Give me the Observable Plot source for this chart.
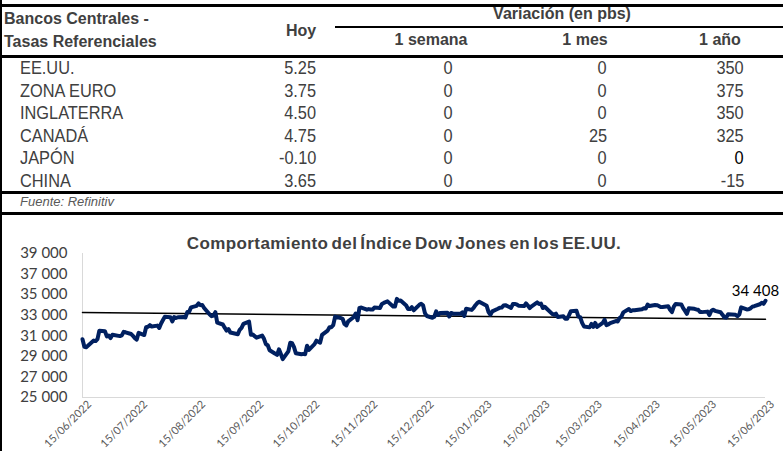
<!DOCTYPE html>
<html><head><meta charset="utf-8">
<script src="https://cdn.jsdelivr.net/npm/d3@7"></script>
<script src="https://cdn.jsdelivr.net/npm/@observablehq/plot@0.6"></script>
<style>
html,body{margin:0;padding:0;}
body{width:783px;height:451px;overflow:hidden;background:#fff;position:relative;font-family:"Liberation Sans",Arial,sans-serif;}
.t{position:absolute;white-space:nowrap;height:30px;line-height:30px;}
.hl{position:absolute;background:#000;}
.hdr{font-weight:bold;font-size:16px;color:#404040;}
.row{font-family:"Liberation Sans",Arial,sans-serif;font-size:19px;color:#404040;transform:scaleX(0.86);}
.src{font-style:italic;font-size:13px;color:#595959;}
#chart{position:absolute;left:0;top:213px;}
#title{font-weight:bold;font-size:17px;letter-spacing:0.4px;word-spacing:-2px;color:#404040;}
</style></head><body>
<div id="table"></div>
<div id="chart"></div>
<script>
// ---------- table data ----------
const countries = ["EE.UU.", "ZONA EURO", "INGLATERRA", "CANADÁ", "JAPÓN", "CHINA"];
const hoy = ["5.25", "3.75", "4.50", "4.75", "-0.10", "3.65"];
const semana = ["0", "0", "0", "0", "0", "0"];
const mes = ["0", "0", "0", "25", "0", "0"];
const anio = ["350", "375", "350", "325", "0", "-15"];
const headerLeft = ["Bancos Centrales -", "Tasas Referenciales"];
const colHeaders = ["Hoy", "Variación (en pbs)", "1 semana", "1 mes", "1 año"];
const sourceText = "Fuente: Refinitiv";

// ---------- chart data (Dow Jones close) ----------
const dowDates = [
"2022-06-15","2022-06-16","2022-06-17","2022-06-21","2022-06-22","2022-06-23","2022-06-24","2022-06-27","2022-06-28","2022-06-29","2022-06-30",
"2022-07-01","2022-07-05","2022-07-06","2022-07-07","2022-07-08","2022-07-11","2022-07-12","2022-07-13","2022-07-14","2022-07-15","2022-07-18","2022-07-19","2022-07-20","2022-07-21","2022-07-22","2022-07-25","2022-07-26","2022-07-27","2022-07-28","2022-07-29",
"2022-08-01","2022-08-02","2022-08-03","2022-08-04","2022-08-05","2022-08-08","2022-08-09","2022-08-10","2022-08-11","2022-08-12","2022-08-15","2022-08-16","2022-08-17","2022-08-18","2022-08-19","2022-08-22","2022-08-23","2022-08-24","2022-08-25","2022-08-26","2022-08-29","2022-08-30","2022-08-31",
"2022-09-01","2022-09-02","2022-09-06","2022-09-07","2022-09-08","2022-09-09","2022-09-12","2022-09-13","2022-09-14","2022-09-15","2022-09-16","2022-09-19","2022-09-20","2022-09-21","2022-09-22","2022-09-23","2022-09-26","2022-09-27","2022-09-28","2022-09-29","2022-09-30",
"2022-10-03","2022-10-04","2022-10-05","2022-10-06","2022-10-07","2022-10-10","2022-10-11","2022-10-12","2022-10-13","2022-10-14","2022-10-17","2022-10-18","2022-10-19","2022-10-20","2022-10-21","2022-10-24","2022-10-25","2022-10-26","2022-10-27","2022-10-28","2022-10-31",
"2022-11-01","2022-11-02","2022-11-03","2022-11-04","2022-11-07","2022-11-08","2022-11-09","2022-11-10","2022-11-11","2022-11-14","2022-11-15","2022-11-16","2022-11-17","2022-11-18","2022-11-21","2022-11-22","2022-11-23","2022-11-25","2022-11-28","2022-11-29","2022-11-30",
"2022-12-01","2022-12-02","2022-12-05","2022-12-06","2022-12-07","2022-12-08","2022-12-09","2022-12-12","2022-12-13","2022-12-14","2022-12-15","2022-12-16","2022-12-19","2022-12-20","2022-12-21","2022-12-22","2022-12-23","2022-12-27","2022-12-28","2022-12-29","2022-12-30",
"2023-01-03","2023-01-04","2023-01-05","2023-01-06","2023-01-09","2023-01-10","2023-01-11","2023-01-12","2023-01-13","2023-01-17","2023-01-18","2023-01-19","2023-01-20","2023-01-23","2023-01-24","2023-01-25","2023-01-26","2023-01-27","2023-01-30","2023-01-31",
"2023-02-01","2023-02-02","2023-02-03","2023-02-06","2023-02-07","2023-02-08","2023-02-09","2023-02-10","2023-02-13","2023-02-14","2023-02-15","2023-02-16","2023-02-17","2023-02-21","2023-02-22","2023-02-23","2023-02-24","2023-02-27","2023-02-28",
"2023-03-01","2023-03-02","2023-03-03","2023-03-06","2023-03-07","2023-03-08","2023-03-09","2023-03-10","2023-03-13","2023-03-14","2023-03-15","2023-03-16","2023-03-17","2023-03-20","2023-03-21","2023-03-22","2023-03-23","2023-03-24","2023-03-27","2023-03-28","2023-03-29","2023-03-30","2023-03-31",
"2023-04-03","2023-04-04","2023-04-05","2023-04-06","2023-04-10","2023-04-11","2023-04-12","2023-04-13","2023-04-14","2023-04-17","2023-04-18","2023-04-19","2023-04-20","2023-04-21","2023-04-24","2023-04-25","2023-04-26","2023-04-27","2023-04-28",
"2023-05-01","2023-05-02","2023-05-03","2023-05-04","2023-05-05","2023-05-08","2023-05-09","2023-05-10","2023-05-11","2023-05-12","2023-05-15","2023-05-16","2023-05-17","2023-05-18","2023-05-19","2023-05-22","2023-05-23","2023-05-24","2023-05-25","2023-05-26","2023-05-30","2023-05-31",
"2023-06-01","2023-06-02","2023-06-05","2023-06-06","2023-06-07","2023-06-08","2023-06-09","2023-06-12","2023-06-13","2023-06-14","2023-06-15"];
const dowClose = [
30668,29927,29889,30530,30483,30677,31500,31438,30947,31029,30775,
31097,30968,31037,31385,31338,31173,30982,30773,30630,31288,31073,31827,31875,32036,31899,31990,31762,32198,32529,32845,
32798,32397,32813,32727,32803,32832,32775,33310,33337,33761,33913,34152,33981,33999,33707,33064,32910,32970,33292,32283,32099,31791,31510,
31656,31318,31146,31581,31775,32152,32381,31105,31135,30962,30822,31020,30706,30184,30077,29590,29261,29135,29684,29226,28726,
29490,30317,30274,29927,29297,29203,29240,29211,30039,29635,30186,30524,30424,30334,31083,31500,31837,31839,32034,32862,32733,
32653,32148,32002,32403,32827,33161,32514,33716,33748,33537,33593,33554,33547,33746,33700,34098,34195,34347,33850,33853,34590,
34395,34430,33947,33597,33598,33781,33477,34006,34108,33966,33203,32920,32757,32850,33376,33027,33204,33241,32876,33221,33147,
33136,33270,32930,33631,33518,33704,33974,34190,34303,33910,33297,33045,33375,33629,33734,33744,33949,33978,33717,34086,
34093,34054,33926,33891,34156,33949,33699,33869,34246,34089,34128,33697,33827,33130,33045,33154,32817,32889,32657,
32662,33004,33391,33432,32856,32799,32255,31910,31820,32155,31875,32247,31862,32245,32561,32031,32106,32238,32433,32395,32718,32860,33274,
33601,33403,33483,33486,33587,33685,33647,34030,33887,33988,33977,33897,33787,33809,33876,33531,33302,33826,34098,
34051,33684,33414,33128,33675,33619,33562,33531,33309,33301,33349,33013,33421,33536,33427,33287,33056,32800,32765,33093,33043,32908,
33061,33763,33563,33573,33665,33833,33877,34066,34212,34108,34408];
const trendDates = ["2022-06-15", "2023-06-15"];
const trendValues = [33260, 32610];
const xTickDates = ["2022-06-15","2022-07-15","2022-08-15","2022-09-15","2022-10-15","2022-11-15","2022-12-15","2023-01-15","2023-02-15","2023-03-15","2023-04-15","2023-05-15","2023-06-15"];
const yTicks = [25000, 27000, 29000, 31000, 33000, 35000, 37000, 39000];
const chartTitle = "Comportamiento del Índice Dow Jones en los EE.UU.";

// ---------- table layout ----------
const T = document.getElementById("table");
function put(text, x, cy, anchor, cls, extra) {
  const d = document.createElement("div");
  d.className = "t " + cls;
  d.textContent = text;
  d.style.top = (cy - 15) + "px";
  if (anchor === "start") { d.style.left = x + "px"; d.style.transformOrigin = "left center"; }
  else if (anchor === "end") { d.style.right = (783 - x) + "px"; d.style.textAlign = "right"; d.style.transformOrigin = "right center"; }
  else { d.style.left = (x - 250) + "px"; d.style.width = "500px"; d.style.textAlign = "center"; }
  if (extra) Object.assign(d.style, extra);
  T.appendChild(d);
  return d;
}
function hline(x, y, w, h) {
  const d = document.createElement("div");
  d.className = "hl";
  Object.assign(d.style, {left: x + "px", top: y + "px", width: w + "px", height: h + "px"});
  T.appendChild(d);
}
// left border
const lb = document.createElement("div");
lb.className = "hl";
Object.assign(lb.style, {left: "0px", top: "0px", width: "2px", height: "451px"});
T.appendChild(lb);

put(sourceText, 20, -4, "start", "src");
hline(0, 4, 783, 3);
put(headerLeft[0], 4, 19, "start", "hdr");
put(headerLeft[1], 4, 42, "start", "hdr");
put(colHeaders[0], 301, 31, "middle", "hdr");
put(colHeaders[1], 562, 14, "middle", "hdr");
hline(335, 26, 448, 2);
put(colHeaders[2], 431, 40, "middle", "hdr");
put(colHeaders[3], 585, 40, "middle", "hdr");
put(colHeaders[4], 720, 40, "middle", "hdr");
hline(0, 55, 783, 3);
const rowY = [68, 90.5, 113, 135.5, 158, 180.5];
countries.forEach((c, i) => {
  const cy = rowY[i];
  put(c, 20, cy, "start", "row");
  put(hoy[i], 316, cy, "end", "row");
  put(semana[i], 453, cy, "end", "row");
  put(mes[i], 607, cy, "end", "row");
  put(anio[i], 744, cy, "end", "row", c === "JAPÓN" ? {color: "#000"} : null);
});
hline(0, 191, 783, 3);
put(sourceText, 20, 202, "start", "src");
hline(0, 212, 783, 3);

// ---------- chart ----------
const parse = d3.utcParse("%Y-%m-%d");
const data = dowDates.map((d, i) => ({date: parse(d), value: dowClose[i]}));
const trend = trendDates.map((d, i) => ({date: parse(d), value: trendValues[i]}));
const xt = xTickDates.map(parse);
const fmt = v => d3.format(",")(v).replace(/,/g, " ");
const last = data[data.length - 1];

const plot = Plot.plot({
  width: 783, height: 238,
  marginLeft: 82, marginRight: 18, marginTop: 40, marginBottom: 54,
  style: {fontFamily: "Lato, 'Open Sans', sans-serif", background: "transparent", overflow: "visible"},
  x: {type: "utc", domain: [xt[0], xt[xt.length - 1]]},
  y: {domain: [25000, 39000]},
  marks: [
    Plot.ruleX([xt[0]], {stroke: "#d9d9d9", strokeWidth: 1}),
    Plot.ruleY([25000], {stroke: "#d9d9d9", strokeWidth: 1}),
    Plot.axisY({ticks: yTicks, tickFormat: fmt, tickSize: 0, tickPadding: 15, fontSize: 15, fill: "#404040", label: null}),
    Plot.axisX({ticks: xt, tickFormat: d3.utcFormat("%d/%m/%Y"), tickRotate: -45, tickSize: 0, tickPadding: 4, dx: 7, dy: 1, fontSize: 11, fill: "#595959", label: null}),
    Plot.line(trend, {x: "date", y: "value", stroke: "#000", strokeWidth: 1.5}),
    Plot.line(data, {x: "date", y: "value", stroke: "#002060", strokeWidth: 4, strokeLinejoin: "round"}),
    Plot.text([last], {x: "date", y: "value", text: d => fmt(d.value), dx: -10, dy: -10, fontSize: 15, fill: "#000"})
  ]
});
document.getElementById("chart").appendChild(plot);

const title = document.createElement("div");
title.className = "t";
title.id = "title";
title.textContent = chartTitle;
Object.assign(title.style, {left: (404 - 300) + "px", width: "600px", textAlign: "center", top: (244 - 15) + "px"});
document.body.appendChild(title);
</script>
</body></html>
